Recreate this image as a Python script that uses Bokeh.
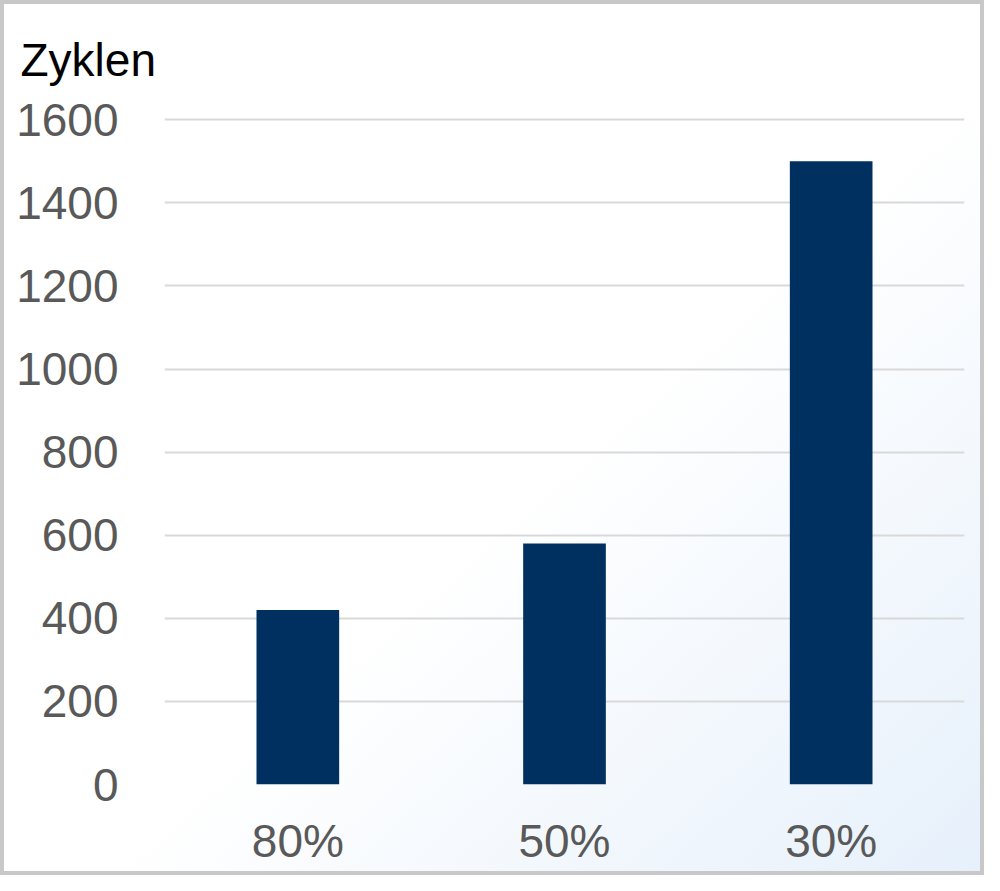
from bokeh.plotting import figure
from bokeh.models import Range1d, FixedTicker
from bokeh.embed import file_html
from bokeh.resources import INLINE

categories = ["80%", "50%", "30%"]
zyklen = [420, 580, 1500]
y_ticks = [0, 200, 400, 600, 800, 1000, 1200, 1400, 1600]
y_title = "Zyklen"

FONT = "Liberation Sans"

p = figure(x_range=categories, y_range=Range1d(0, 1608),
           width=984, height=875, output_backend="svg", toolbar_location=None,
           min_border_left=164, min_border_right=20, min_border_top=116, min_border_bottom=91,
           title=y_title)

p.vbar(x=categories, top=zyklen, width=0.31, color="#003060", line_color=None)

p.background_fill_color = None
p.border_fill_color = None
p.outline_line_color = None
p.styles = {
    "background": "linear-gradient(to bottom right, #ffffff 55%, #e6f0fb 100%)",
    "box-shadow": "inset 0 0 0 4px #c8c8c8",
}

p.title.text_font = FONT
p.title.text_font_size = "46px"
p.title.text_font_style = "normal"
p.title.text_color = "#000000"
p.title.align = "left"
p.title.offset = -144
p.title.standoff = 62

p.xgrid.grid_line_color = None
p.ygrid.grid_line_color = "#d9d9d9"
p.ygrid.grid_line_width = 2
p.yaxis.ticker = FixedTicker(ticks=y_ticks)

for ax in (p.xaxis, p.yaxis):
    ax.axis_line_color = None
    ax.major_tick_line_color = None
    ax.minor_tick_line_color = None
    ax.major_label_text_font = FONT
    ax.major_label_text_font_size = "46px"
    ax.major_label_text_color = "#595959"

p.xaxis.major_label_standoff = 24
p.yaxis.major_label_standoff = 40

open("out.html", "w").write(file_html(p, INLINE))
